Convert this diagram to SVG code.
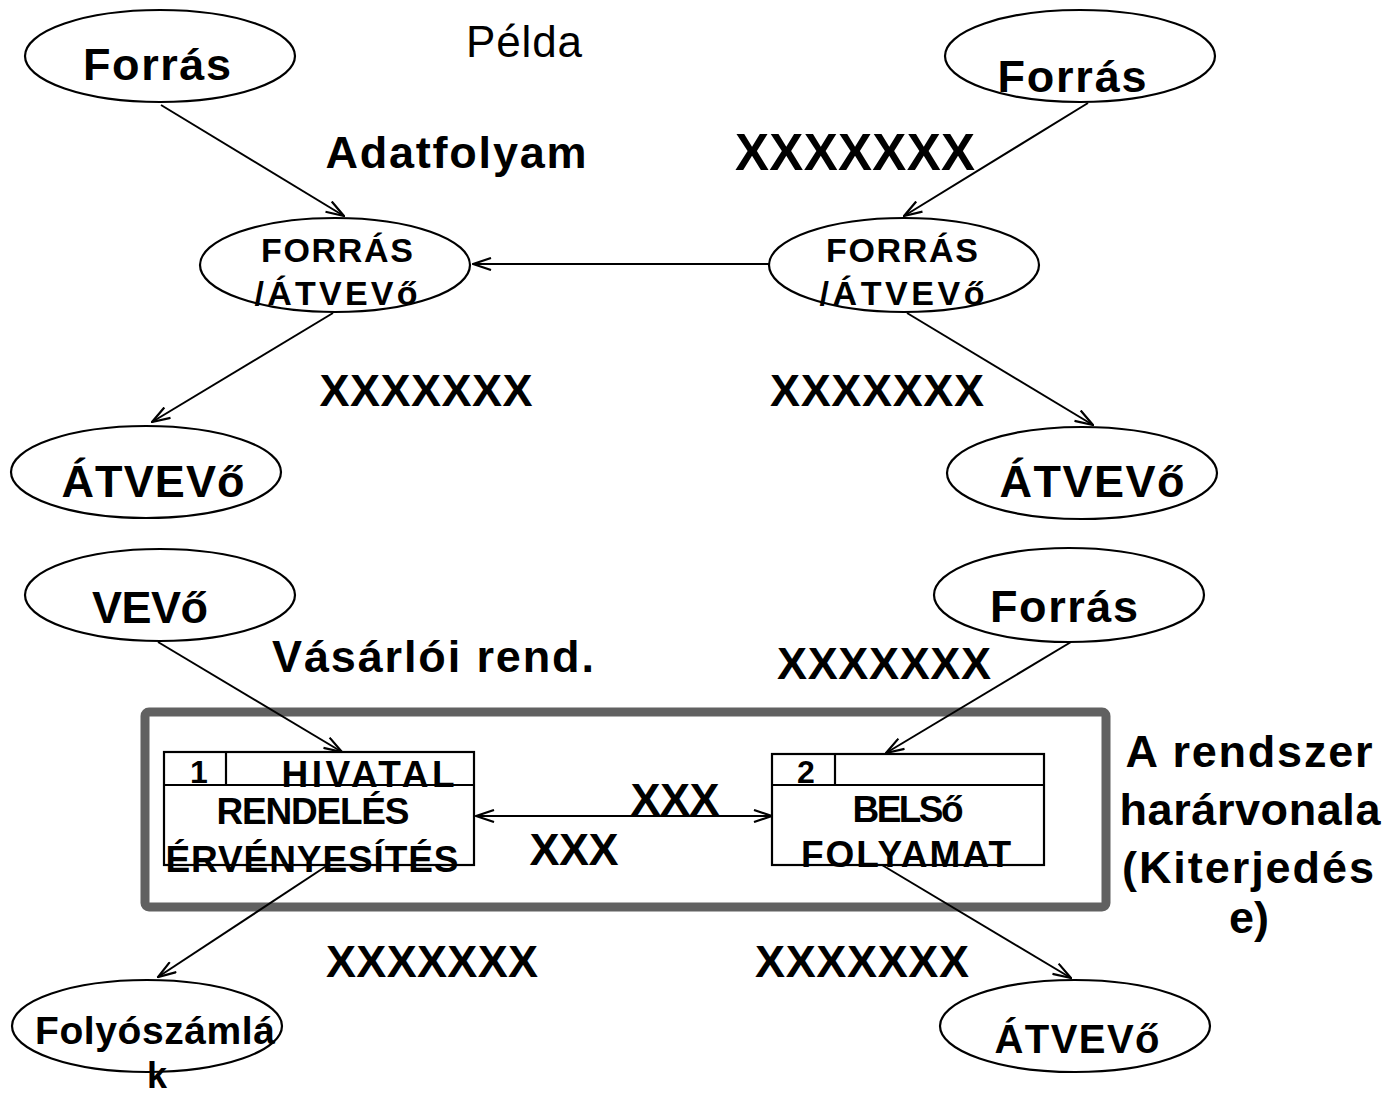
<svg xmlns="http://www.w3.org/2000/svg" width="1389" height="1096" viewBox="0 0 1389 1096">
<style>
.n{fill:#fff;stroke:#000;stroke-width:2.2}
.t{font-family:"Liberation Sans",Arial,sans-serif;font-weight:bold;fill:#000;text-anchor:middle}
.big{font-size:45px}
.mid{font-size:34px}
.box{font-size:37px}
.c{stroke:#000;stroke-width:2;fill:none;marker-end:url(#arr)}
.p{fill:#fff;stroke:#000;stroke-width:2.2}
.l{stroke:#000;stroke-width:2.2}
</style>
<defs>
<marker id="arr" viewBox="0 0 20 14" refX="19" refY="7" markerWidth="20" markerHeight="14" markerUnits="userSpaceOnUse" orient="auto-start-reverse">
<path d="M1,1 L19,7 L1,13" fill="none" stroke="#000" stroke-width="2.2"/>
</marker>
</defs>
<rect width="1389" height="1096" fill="#fff"/>

<g id="boundary">
<rect x="145" y="712" width="961" height="195" rx="4" fill="none" stroke="#616161" stroke-width="9"/>
</g>

<g id="connectors">
<line class="c" x1="161" y1="105" x2="344" y2="216"/>
<line class="c" x1="1088" y1="103" x2="904" y2="216"/>
<line class="c" x1="769" y1="264" x2="473" y2="264"/>
<line class="c" x1="333" y1="313" x2="152" y2="422"/>
<line class="c" x1="907" y1="313" x2="1093" y2="425"/>
<line class="c" x1="158" y1="642" x2="342" y2="752"/>
<line class="c" x1="1071" y1="642" x2="886" y2="753"/>
<line class="c" x1="476" y1="816" x2="772" y2="816" marker-start="url(#arr)"/>
<line class="c" x1="328" y1="865" x2="158" y2="977"/>
<line class="c" x1="882" y1="865" x2="1071" y2="978"/>
</g>

<g id="forras1">
<ellipse class="n" cx="160" cy="56" rx="135" ry="46"/>
<text class="t big" x="157" y="80" textLength="148">Forrás</text>
</g>
<g id="forras2">
<ellipse class="n" cx="1080" cy="56" rx="135" ry="46"/>
<text class="t big" x="1072" y="92" textLength="149">Forrás</text>
</g>
<g id="fa1">
<ellipse class="n" cx="335" cy="265" rx="135" ry="47"/>
<text class="t mid" x="337" y="262" textLength="152">FORRÁS</text>
<text class="t mid" x="336" y="305" textLength="163">/ÁTVEVő</text>
</g>
<g id="fa2">
<ellipse class="n" cx="904" cy="265" rx="135" ry="47"/>
<text class="t mid" x="902" y="262" textLength="152">FORRÁS</text>
<text class="t mid" x="902" y="305" textLength="165">/ÁTVEVő</text>
</g>
<g id="atvevo1">
<ellipse class="n" cx="146" cy="472" rx="135" ry="46"/>
<text class="t big" x="153" y="497" textLength="183">ÁTVEVő</text>
</g>
<g id="atvevo2">
<ellipse class="n" cx="1082" cy="473" rx="135" ry="46"/>
<text class="t big" x="1092" y="497" textLength="185">ÁTVEVő</text>
</g>
<g id="vevo">
<ellipse class="n" cx="160" cy="595" rx="135" ry="46"/>
<text class="t big" x="150" y="623" textLength="116">VEVő</text>
</g>
<g id="forras3">
<ellipse class="n" cx="1069" cy="595" rx="135" ry="47"/>
<text class="t big" x="1064" y="622" textLength="148">Forrás</text>
</g>
<g id="p1">
<rect class="p" x="164" y="752" width="310" height="113"/>
<line class="l" x1="164" y1="785" x2="474" y2="785"/>
<line class="l" x1="226" y1="752" x2="226" y2="785"/>
<text class="t" x="199" y="783" style="font-size:32px">1</text>
<text class="t box" x="368" y="787" textLength="173">HIVATAL</text>
<text class="t box" x="313" y="824" textLength="193">RENDELÉS</text>
<text class="t box" x="312" y="872" textLength="293">ÉRVÉNYESÍTÉS</text>
</g>
<g id="p2">
<rect class="p" x="772" y="754" width="272" height="111"/>
<line class="l" x1="772" y1="785" x2="1044" y2="785"/>
<line class="l" x1="835" y1="754" x2="835" y2="785"/>
<text class="t" x="806" y="783" style="font-size:32px">2</text>
<text class="t box" x="908" y="822" textLength="111">BELSő</text>
<text class="t box" x="906" y="867" textLength="210">FOLYAMAT</text>
</g>
<g id="folyo">
<ellipse class="n" cx="147" cy="1026" rx="135" ry="46"/>
<text class="t" style="font-size:39px" x="155" y="1044" textLength="240">Folyószámlá</text>
<text class="t" style="font-size:36px" x="157" y="1088">k</text>
</g>
<g id="atvevo3">
<ellipse class="n" cx="1075" cy="1026" rx="135" ry="46"/>
<text class="t" style="font-size:40px" x="1077" y="1053" textLength="165">ÁTVEVő</text>
</g>

<g id="labels">
<text class="t" x="524" y="57" style="font-size:44px;font-weight:normal" textLength="116">Példa</text>
<text class="t big" x="456" y="168" textLength="261">Adatfolyam</text>
<text class="t" x="855" y="170" style="font-size:51px" textLength="240">XXXXXXX</text>
<text class="t big" x="426" y="406" textLength="213">XXXXXXX</text>
<text class="t big" x="877" y="406" textLength="214">XXXXXXX</text>
<text class="t big" x="433" y="672" textLength="322">Vásárlói rend.</text>
<text class="t big" x="884" y="679" textLength="214">XXXXXXX</text>
<text class="t big" x="675" y="815" textLength="89">XXX</text>
<text class="t big" x="574" y="865" textLength="89">XXX</text>
<text class="t big" x="1249" y="767" textLength="247">A rendszer</text>
<text class="t big" x="1250" y="825" textLength="261">harárvonala</text>
<text class="t big" x="1248" y="883" textLength="252">(Kiterjedés</text>
<text class="t big" x="1249" y="933">e)</text>
<text class="t big" x="432" y="977" textLength="212">XXXXXXX</text>
<text class="t big" x="862" y="977" textLength="214">XXXXXXX</text>
</g>
</svg>
